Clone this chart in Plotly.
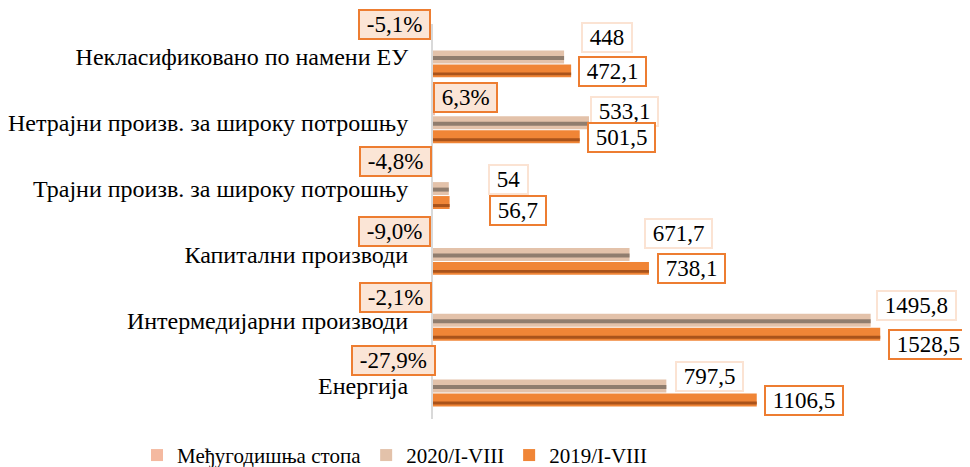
import plotly.graph_objects as go

categories = [
    "Некласификовано по намени ЕУ",
    "Нетрајни произв. за широку потрошњу",
    "Трајни произв. за широку потрошњу",
    "Капитални производи",
    "Интермедијарни производи",
    "Енергија",
]
values_2020 = [448, 533.1, 54, 671.7, 1495.8, 797.5]
values_2019 = [472.1, 501.5, 56.7, 738.1, 1528.5, 1106.5]
growth_rate = [-5.1, 6.3, -4.8, -9.0, -2.1, -27.9]
series_names = ["Међугодишња стопа", "2020/I-VIII", "2019/I-VIII"]

# label placement tweaks (pixels), styling only
lab20_dx = [17, 1, 39, 14, 5, 9]
lab20_dy = [19, 11, 9, 21, 15, 10]
lab19_dx = [7, 7, 39, 8, 8, 7]
lab19_dy = [-15, -15, -22, -14, -24, -14]
pct_dx = [-2, 0, -1, -2, -1, 3]
pct_dy = [32, 25, 27, 23, 23, 26]

FONT = "Liberation Serif, Times New Roman, serif"
C_PCT = "#F4B9A0"
C_20 = "#E3C2AA"
C_20S = "#907D6E"
C_19 = "#F08536"
C_19S = "#A9531B"
BOX_20 = "#FBE3D3"
BOX_19 = "#ED7D31"
PCT_FILL = "#FBE5D6"

OFF = 8  # default page body margin


def fmt(v):
    if float(v).is_integer():
        return str(int(v))
    return f"{v:.1f}".replace(".", ",")


def fmt_pct(v):
    return f"{v:.1f}".replace(".", ",") + "%"


slot = 1 / 66.0  # one pixel in category units
bw = 13 * slot

fig = go.Figure()
fig.add_trace(go.Bar(y=categories, x=growth_rate, orientation="h", name=series_names[0],
                     marker=dict(color=C_PCT, line=dict(width=0)),
                     offset=14 * slot - bw / 2, width=bw))
fig.add_trace(go.Bar(y=categories, x=values_2020, orientation="h", name=series_names[1],
                     marker=dict(color=C_20, line=dict(width=0)),
                     offset=-bw / 2, width=bw))
fig.add_trace(go.Bar(y=categories, x=values_2020, orientation="h", showlegend=False,
                     marker=dict(color=C_20S, line=dict(width=0)), hoverinfo="skip",
                     offset=-3 * slot, width=4 * slot))
fig.add_trace(go.Bar(y=categories, x=values_2019, orientation="h", name=series_names[2],
                     marker=dict(color=C_19, line=dict(width=0)),
                     offset=-14 * slot - bw / 2, width=bw))
fig.add_trace(go.Bar(y=categories, x=values_2019, orientation="h", showlegend=False,
                     marker=dict(color=C_19S, line=dict(width=0)), hoverinfo="skip",
                     offset=-14 * slot - bw / 2 + 2 * slot, width=3 * slot))

VAL_SIZE = 23
ann = []
for i, c in enumerate(categories):
    ann.append(dict(x=values_2020[i], y=c, xref="x", yref="y", text="\u00a0" + fmt(values_2020[i]) + "\u00a0",
                    showarrow=False, xanchor="left", yanchor="middle",
                    xshift=lab20_dx[i], yshift=lab20_dy[i],
                    bgcolor="white", bordercolor=BOX_20, borderwidth=2, borderpad=1,
                    font=dict(family=FONT, size=VAL_SIZE, color="black")))
    ann.append(dict(x=values_2019[i], y=c, xref="x", yref="y", text="\u00a0" + fmt(values_2019[i]) + "\u00a0",
                    showarrow=False, xanchor="left", yanchor="middle",
                    xshift=lab19_dx[i], yshift=lab19_dy[i],
                    bgcolor="white", bordercolor=BOX_19, borderwidth=2, borderpad=1,
                    font=dict(family=FONT, size=VAL_SIZE, color="black")))
    ann.append(dict(x=0, y=c, xref="x", yref="y", text="\u00a0" + fmt_pct(growth_rate[i]) + "\u00a0",
                    showarrow=False, xanchor="right" if growth_rate[i] < 0 else "left", yanchor="middle",
                    xshift=pct_dx[i], yshift=pct_dy[i],
                    bgcolor=PCT_FILL, bordercolor=BOX_19, borderwidth=2, borderpad=1,
                    font=dict(family=FONT, size=VAL_SIZE, color="black")))

W, H = 970 - OFF, 467 - OFF
L, R = 433 - OFF, 20
T, B = 23.5 - OFF, 47.5
PW, PH = W - L - R, H - T - B
fig.update_layout(
    width=W, height=H,
    barmode="overlay",
    paper_bgcolor="white", plot_bgcolor="white",
    margin=dict(l=L, r=R, t=T, b=B, autoexpand=False, pad=0),
    font=dict(family=FONT, size=22, color="black"),
    xaxis=dict(range=[0, 1767], showgrid=False, zeroline=False, showticklabels=False,
               showline=False, ticks="", automargin=False),
    yaxis=dict(type="category", categoryorder="array", categoryarray=categories[::-1],
               range=[-0.5, 5.5], autorange=False, automargin=False,
               showgrid=False, zeroline=False, showline=True, linecolor="#D9D9D9", linewidth=2,
               ticks="", ticklabelstandoff=18,
               tickfont=dict(family=FONT, size=24, color="black")),
    legend=dict(orientation="h", xref="paper", x=(137 - OFF - L) / PW, xanchor="left",
                yref="paper", y=-(456 - OFF - (H - B)) / PH, yanchor="middle",
                font=dict(family=FONT, size=21, color="black"), bgcolor="rgba(0,0,0,0)",
                itemwidth=30),
    annotations=ann,
    showlegend=True,
)

fig.write_html("out.html")
